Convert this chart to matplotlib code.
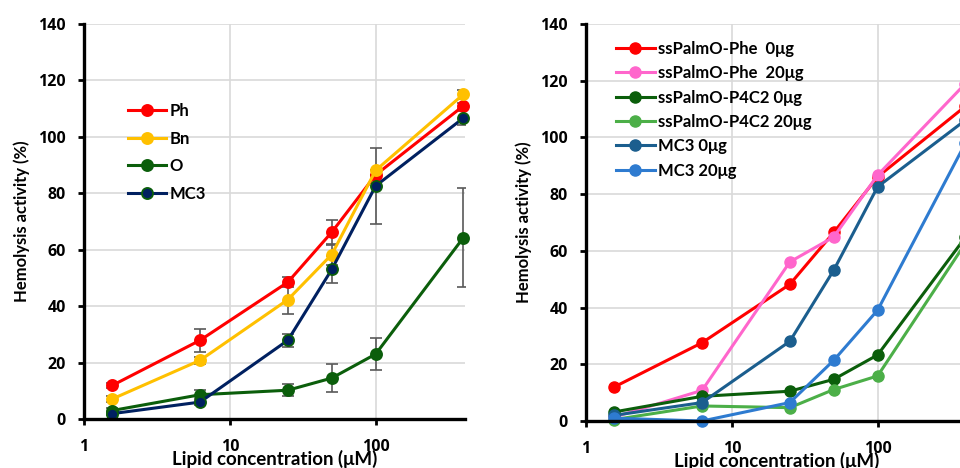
import matplotlib
matplotlib.use("Agg")
import matplotlib.pyplot as plt
import numpy as np

plt.rcParams['font.family'] = ['Lato', 'DejaVu Sans']
plt.rcParams['font.weight'] = 'bold'

conc = [1.5625, 6.25, 25, 50, 100, 400]

# Left panel
left_labels = ["Ph", "Bn", "O", "MC3"]
ph = [11.9, 27.9, 48.5, 66.2, 86.5, 111.0]
bn = [7.1, 20.8, 42.3, 58.3, 88.1, 115.1]
o_ = [3.0, 8.6, 10.2, 14.5, 23.0, 64.3]
mc3 = [1.9, 6.0, 27.9, 53.0, 82.6, 106.7]
ph_err = [1.0, 4.0, 1.8, 4.4, 0.0, 1.0]
bn_err = [1.0, 1.3, 5.2, 3.6, 0.0, 1.6]
o_err = [1.0, 1.8, 2.2, 5.1, 5.6, 17.6]
mc3_err = [0.5, 1.0, 2.4, 4.9, 13.5, 2.4]
left_colors = ["#FF0000", "#FFC000", "#0B5E0B", "#002060"]
left_edges = ["#FF0000", "#FFC000", "#0B5E0B", "#0B5E0B"]

# Right panel
right_labels = ["ssPalmO-Phe  0μg", "ssPalmO-Phe  20μg", "ssPalmO-P4C2 0μg",
                "ssPalmO-P4C2 20μg", "MC3 0μg", "MC3 20μg"]
phe0 = [12.0, 27.6, 48.2, 66.5, 86.1, 111.0]
phe20 = [1.4, 10.8, 56.1, 64.9, 86.7, 119.0]
p4c2_0 = [3.2, 8.7, 10.5, 14.7, 23.3, 64.8]
p4c2_20 = [0.5, 5.3, 4.7, 11.1, 15.9, 62.7]
mc3_0 = [2.0, 6.5, 28.1, 53.2, 82.6, 106.1]
mc3_20 = [1.0, 0.0, 6.5, 21.4, 39.1, 98.0]
right_colors = ["#FF0000", "#FF66CC", "#0B5E0B", "#4CAF48", "#1B5E8E", "#2E7BD0"]

yticks = [0, 20, 40, 60, 80, 100, 120, 140]
xticks = [1, 10, 100]
xtick_labels = ["1", "10", "100"]

fig = plt.figure(figsize=(9.6, 4.68), dpi=100)
axL = fig.add_axes([84/960, 1-419/468, 381/960, (419-24)/468])
axR = fig.add_axes([586/960, 1-421/468, 381/960, (421-24)/468])

def style(ax):
    ax.set_xscale('log')
    ax.set_xlim(1, 410)
    ax.set_ylim(0, 140)
    ax.set_yticks(yticks)
    ax.set_xticks(xticks)
    ax.set_xticklabels(xtick_labels)
    ax.xaxis.set_minor_locator(matplotlib.ticker.NullLocator())
    ax.grid(True, which='major', color='#D9D9D9', linewidth=1.2)
    ax.set_axisbelow(True)
    for s in ['top', 'right']:
        ax.spines[s].set_visible(False)
    for s in ['left', 'bottom']:
        ax.spines[s].set_linewidth(2.4)
        ax.spines[s].set_color('black')
        ax.spines[s].set_zorder(5)
    ax.tick_params(axis='y', direction='out', length=4.5, width=2, pad=8.5)
    ax.tick_params(axis='x', direction='out', length=4.5, width=2, pad=10)
    for lab in ax.get_xticklabels() + ax.get_yticklabels():
        lab.set_fontweight('bold')
        lab.set_family(['Open Sans', 'DejaVu Sans'])
        lab.set_fontsize(11.5)
    ax.set_ylabel("Hemolysis activity (%)", fontsize=12, fontweight='bold', labelpad=6)
    ax.set_xlabel("Lipid concentration (μM)", fontsize=13.5, fontweight='bold', labelpad=-4)

style(axL)
style(axR)

for ys, es in zip([ph, bn, o_, mc3], [ph_err, bn_err, o_err, mc3_err]):
    axL.errorbar(conc, ys, yerr=es, fmt='none', ecolor='#595959', elinewidth=1.2,
                 capsize=4, capthick=1.2, zorder=2)
for ys, lab, c, ec in zip([ph, bn, o_, mc3], left_labels, left_colors, left_edges):
    axL.plot(conc, ys, color=c, lw=2.2, marker='o', ms=8, mfc=c, mec=ec, mew=1.3,
             label=lab, zorder=3, clip_on=False)
legL = axL.legend(loc='upper left', bbox_to_anchor=(0.075, 0.838), frameon=False,
                  handlelength=2.3, handletextpad=0.2, labelspacing=0.7,
                  prop={'size': 12, 'weight': 'bold'})

for ys, lab, c in zip([phe0, phe20, p4c2_0, p4c2_20, mc3_0, mc3_20], right_labels, right_colors):
    axR.plot(conc, ys, color=c, lw=2.2, marker='o', ms=8, mfc=c, mec=c,
             label=lab, zorder=3, clip_on=False)
legR = axR.legend(loc='upper left', bbox_to_anchor=(0.04, 0.995), frameon=False,
                  handlelength=2.3, handletextpad=0.2, labelspacing=0.5,
                  prop={'size': 12, 'weight': 'bold'})

fig.savefig("out.png", dpi=100)
